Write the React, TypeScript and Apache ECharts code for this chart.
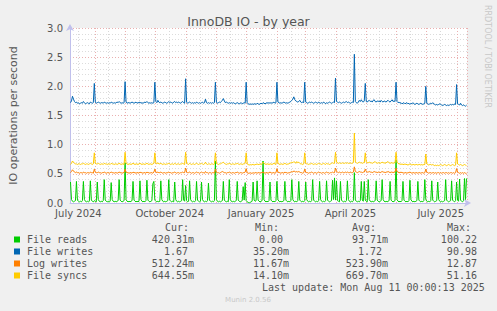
import React, { useEffect, useRef } from "react";
import * as echarts from "echarts";

// ---------- data ----------
const startDateUTC = Date.UTC(2024, 6, 7);
const dayCount = 400;
const tickLabelDates = ["2024-07-15", "2024-10-15", "2025-01-15", "2025-04-15", "2025-07-15"];
const tickLabels = ["July 2024", "October 2024", "January 2025", "April 2025", "July 2025"];

const seriesNames = ["File reads", "File writes", "Log writes", "File syncs"];
const seriesColors = ["#00cc00", "#0066b3", "#ff8000", "#ffcc00"];

const fileReads = [
  0.36, 0.06, 0.03, 0.02, 0.03, 0.04, 0.37, 0.05, 0.03, 0.02,
  0.03, 0.02, 0.04, 0.37, 0.06, 0.03, 0.02, 0.03, 0.02, 0.03,
  0.38, 0.05, 0.03, 0.02, 0.04, 0.03, 0.02, 0.36, 0.06, 0.03,
  0.02, 0.03, 0.02, 0.04, 0.40, 0.05, 0.03, 0.02, 0.03, 0.02,
  0.03, 0.35, 0.06, 0.03, 0.02, 0.03, 0.02, 0.03, 0.04, 0.40,
  0.05, 0.03, 0.02, 0.03, 0.04, 0.69, 0.06, 0.03, 0.02, 0.03,
  0.02, 0.03, 0.04, 0.37, 0.05, 0.03, 0.02, 0.03, 0.02, 0.03,
  0.38, 0.06, 0.03, 0.02, 0.03, 0.02, 0.04, 0.39, 0.05, 0.03,
  0.02, 0.03, 0.04, 0.33, 0.37, 0.05, 0.03, 0.02, 0.03, 0.02,
  0.03, 0.38, 0.06, 0.03, 0.02, 0.03, 0.02, 0.03, 0.04, 0.40,
  0.05, 0.03, 0.02, 0.03, 0.02, 0.36, 0.06, 0.03, 0.02, 0.03,
  0.02, 0.03, 0.04, 0.40, 0.05, 0.03, 0.30, 0.04, 0.02, 0.03,
  0.38, 0.06, 0.03, 0.02, 0.03, 0.02, 0.04, 0.37, 0.05, 0.03,
  0.02, 0.03, 0.36, 0.06, 0.03, 0.02, 0.03, 0.02, 0.04, 0.34,
  0.05, 0.03, 0.02, 0.03, 0.02, 0.04, 0.72, 0.06, 0.03, 0.02,
  0.03, 0.02, 0.03, 0.04, 0.37, 0.05, 0.03, 0.02, 0.03, 0.02,
  0.40, 0.06, 0.03, 0.02, 0.03, 0.02, 0.03, 0.04, 0.37, 0.05,
  0.03, 0.02, 0.03, 0.04, 0.28, 0.05, 0.35, 0.04, 0.02, 0.01,
  0.00, 0.01, 0.02, 0.03, 0.36, 0.05, 0.03, 0.04, 0.38, 0.05,
  0.03, 0.02, 0.03, 0.04, 0.72, 0.06, 0.03, 0.02, 0.03, 0.02,
  0.04, 0.36, 0.05, 0.03, 0.02, 0.03, 0.02, 0.04, 0.37, 0.06,
  0.03, 0.02, 0.03, 0.02, 0.03, 0.04, 0.37, 0.05, 0.03, 0.02,
  0.03, 0.02, 0.04, 0.40, 0.06, 0.03, 0.02, 0.03, 0.02, 0.04,
  0.37, 0.05, 0.03, 0.02, 0.03, 0.02, 0.04, 0.36, 0.06, 0.03,
  0.02, 0.03, 0.02, 0.04, 0.40, 0.05, 0.03, 0.02, 0.03, 0.02,
  0.04, 0.37, 0.06, 0.03, 0.02, 0.03, 0.02, 0.04, 0.38, 0.05,
  0.03, 0.02, 0.03, 0.04, 0.39, 0.06, 0.43, 0.05, 0.38, 0.04,
  0.03, 0.02, 0.37, 0.05, 0.03, 0.02, 0.03, 0.02, 0.04, 0.38,
  0.06, 0.03, 0.02, 0.03, 0.02, 0.04, 0.52, 0.05, 0.03, 0.02,
  0.03, 0.02, 0.04, 0.37, 0.05, 0.03, 0.37, 0.05, 0.03, 0.02,
  0.40, 0.06, 0.03, 0.02, 0.03, 0.02, 0.03, 0.04, 0.38, 0.05,
  0.03, 0.02, 0.03, 0.04, 0.40, 0.06, 0.03, 0.02, 0.03, 0.02,
  0.03, 0.04, 0.37, 0.05, 0.03, 0.02, 0.03, 0.04, 0.74, 0.06,
  0.03, 0.02, 0.03, 0.02, 0.04, 0.37, 0.05, 0.03, 0.02, 0.03,
  0.02, 0.04, 0.39, 0.06, 0.03, 0.02, 0.03, 0.02, 0.03, 0.04,
  0.37, 0.05, 0.03, 0.02, 0.03, 0.02, 0.04, 0.40, 0.06, 0.03,
  0.02, 0.03, 0.02, 0.04, 0.38, 0.05, 0.03, 0.02, 0.03, 0.04,
  0.36, 0.06, 0.03, 0.02, 0.03, 0.02, 0.03, 0.04, 0.40, 0.05,
  0.03, 0.02, 0.03, 0.04, 0.38, 0.05, 0.03, 0.02, 0.04, 0.36,
  0.05, 0.03, 0.41, 0.05, 0.03, 0.02, 0.04, 0.42, 0.06, 0.42,
];

const fileWrites = [
  1.72, 1.75, 1.83, 1.78, 1.74, 1.72, 1.73, 1.71, 1.72, 1.70,
  1.71, 1.72, 1.71, 1.74, 1.72, 1.70, 1.71, 1.72, 1.71, 1.70,
  1.73, 1.72, 1.71, 1.72, 2.05, 1.73, 1.71, 1.72, 1.73, 1.72,
  1.71, 1.72, 1.72, 1.71, 1.73, 1.72, 1.71, 1.72, 1.71, 1.72,
  1.71, 1.73, 1.72, 1.71, 1.72, 1.71, 1.72, 1.73, 1.72, 1.74,
  1.72, 1.71, 1.72, 1.71, 1.72, 2.08, 1.73, 1.71, 1.72, 1.72,
  1.71, 1.72, 1.73, 1.72, 1.71, 1.72, 1.73, 1.71, 1.72, 1.72,
  1.73, 1.71, 1.72, 1.71, 1.72, 1.73, 1.72, 1.74, 1.72, 1.71,
  1.72, 1.71, 1.72, 1.71, 1.72, 2.07, 1.74, 1.72, 1.76, 1.73,
  1.72, 1.73, 1.72, 1.71, 1.72, 1.73, 1.72, 1.71, 1.72, 1.74,
  1.72, 1.73, 1.72, 1.71, 1.73, 1.74, 1.72, 1.73, 1.72, 1.73,
  1.72, 1.71, 1.73, 1.74, 1.72, 1.71, 2.13, 1.73, 1.71, 1.72,
  1.73, 1.72, 1.71, 1.72, 1.71, 1.72, 1.71, 1.73, 1.72, 1.71,
  1.72, 1.71, 1.72, 1.73, 1.71, 1.72, 1.78, 1.72, 1.71, 1.72,
  1.71, 1.72, 1.71, 1.72, 1.71, 1.72, 2.07, 1.73, 1.71, 1.72,
  1.73, 1.72, 1.74, 1.76, 1.79, 1.75, 1.72, 1.73, 1.72, 1.71,
  1.72, 1.71, 1.72, 1.71, 1.72, 1.71, 1.70, 1.71, 1.72, 1.71,
  1.70, 1.71, 1.72, 1.70, 1.71, 1.72, 1.71, 2.07, 1.72, 1.70,
  1.69, 1.70, 1.69, 1.70, 1.69, 1.70, 1.70, 1.69, 1.71, 1.70,
  1.69, 1.70, 1.71, 1.70, 1.72, 1.71, 1.70, 1.71, 1.72, 1.71,
  1.72, 1.71, 1.72, 1.71, 1.72, 1.73, 1.71, 1.72, 2.07, 1.73,
  1.72, 1.71, 1.72, 1.71, 1.72, 1.73, 1.72, 1.71, 1.72, 1.71,
  1.72, 1.73, 1.74, 1.76, 1.78, 1.82, 1.77, 1.75, 1.74, 1.73,
  1.74, 1.76, 1.73, 1.72, 1.73, 1.72, 2.07, 1.73, 1.72, 1.71,
  1.72, 1.73, 1.72, 1.73, 1.72, 1.71, 1.72, 1.73, 1.72, 1.71,
  1.73, 1.72, 1.71, 1.72, 1.71, 1.73, 1.72, 1.70, 1.72, 1.71,
  1.72, 1.73, 1.72, 1.71, 1.72, 1.73, 1.72, 2.14, 1.74, 1.73,
  1.72, 1.73, 1.72, 1.71, 1.72, 1.73, 1.72, 1.73, 1.74, 1.72,
  1.73, 1.72, 1.71, 1.72, 1.73, 1.72, 2.55, 1.74, 1.72, 1.71,
  1.73, 1.76, 1.74, 1.77, 1.74, 1.73, 1.75, 2.05, 1.74, 1.73,
  1.75, 1.76, 1.74, 1.75, 1.73, 1.76, 1.77, 1.74, 1.73, 1.75,
  1.74, 1.75, 1.73, 1.76, 1.74, 1.73, 1.75, 1.74, 1.73, 1.75,
  1.76, 1.74, 1.73, 1.75, 1.77, 1.74, 1.75, 1.74, 2.07, 1.74,
  1.72, 1.73, 1.71, 1.72, 1.70, 1.71, 1.72, 1.70, 1.71, 1.72,
  1.70, 1.71, 1.69, 1.71, 1.70, 1.72, 1.70, 1.69, 1.70, 1.71,
  1.70, 1.69, 1.70, 1.71, 1.70, 1.69, 1.70, 1.71, 2.00, 1.71,
  1.70, 1.69, 1.70, 1.71, 1.70, 1.72, 1.70, 1.69, 1.68, 1.69,
  1.68, 1.69, 1.70, 1.69, 1.68, 1.67, 1.68, 1.69, 1.68, 1.67,
  1.68, 1.67, 1.68, 1.69, 1.68, 1.69, 1.68, 1.70, 1.69, 2.03,
  1.70, 1.69, 1.68, 1.71, 1.68, 1.67, 1.68, 1.67, 1.66, 1.67,
];

const logWrites = [
  0.52, 0.54, 0.57, 0.55, 0.53, 0.52, 0.53, 0.52, 0.52, 0.51,
  0.52, 0.52, 0.51, 0.53, 0.52, 0.52, 0.51, 0.52, 0.52, 0.51,
  0.53, 0.52, 0.52, 0.51, 0.58, 0.53, 0.52, 0.52, 0.53, 0.52,
  0.52, 0.51, 0.52, 0.52, 0.53, 0.52, 0.51, 0.52, 0.52, 0.51,
  0.52, 0.53, 0.52, 0.52, 0.51, 0.52, 0.52, 0.51, 0.52, 0.53,
  0.52, 0.52, 0.51, 0.52, 0.52, 0.58, 0.53, 0.52, 0.52, 0.51,
  0.52, 0.52, 0.51, 0.53, 0.52, 0.52, 0.51, 0.52, 0.52, 0.51,
  0.53, 0.52, 0.52, 0.51, 0.52, 0.52, 0.51, 0.53, 0.52, 0.52,
  0.51, 0.52, 0.52, 0.51, 0.53, 0.58, 0.53, 0.52, 0.53, 0.52,
  0.52, 0.53, 0.52, 0.51, 0.52, 0.52, 0.51, 0.52, 0.52, 0.53,
  0.52, 0.52, 0.51, 0.52, 0.52, 0.53, 0.52, 0.51, 0.52, 0.52,
  0.51, 0.52, 0.52, 0.53, 0.52, 0.52, 0.60, 0.53, 0.52, 0.52,
  0.53, 0.52, 0.51, 0.52, 0.52, 0.51, 0.52, 0.53, 0.52, 0.52,
  0.51, 0.52, 0.53, 0.52, 0.52, 0.51, 0.54, 0.52, 0.52, 0.51,
  0.52, 0.52, 0.51, 0.52, 0.52, 0.51, 0.58, 0.53, 0.52, 0.52,
  0.51, 0.52, 0.53, 0.54, 0.53, 0.52, 0.52, 0.51, 0.52, 0.52,
  0.53, 0.52, 0.51, 0.52, 0.52, 0.51, 0.52, 0.52, 0.53, 0.52,
  0.51, 0.52, 0.52, 0.51, 0.52, 0.52, 0.53, 0.59, 0.52, 0.51,
  0.51, 0.52, 0.51, 0.51, 0.52, 0.51, 0.52, 0.52, 0.51, 0.52,
  0.52, 0.51, 0.52, 0.52, 0.53, 0.52, 0.51, 0.52, 0.52, 0.51,
  0.52, 0.53, 0.52, 0.51, 0.52, 0.52, 0.51, 0.52, 0.59, 0.53,
  0.52, 0.52, 0.51, 0.52, 0.52, 0.51, 0.53, 0.52, 0.52, 0.51,
  0.52, 0.52, 0.53, 0.54, 0.53, 0.55, 0.54, 0.53, 0.54, 0.53,
  0.54, 0.53, 0.52, 0.52, 0.51, 0.52, 0.58, 0.53, 0.52, 0.52,
  0.51, 0.52, 0.52, 0.53, 0.52, 0.51, 0.52, 0.52, 0.51, 0.52,
  0.53, 0.52, 0.52, 0.51, 0.52, 0.52, 0.51, 0.52, 0.53, 0.52,
  0.52, 0.51, 0.52, 0.52, 0.53, 0.52, 0.52, 0.60, 0.54, 0.53,
  0.52, 0.53, 0.52, 0.52, 0.53, 0.52, 0.52, 0.53, 0.52, 0.53,
  0.52, 0.52, 0.53, 0.52, 0.52, 0.53, 0.62, 0.54, 0.53, 0.52,
  0.53, 0.54, 0.53, 0.53, 0.52, 0.53, 0.53, 0.58, 0.54, 0.53,
  0.53, 0.54, 0.53, 0.53, 0.52, 0.53, 0.54, 0.53, 0.53, 0.52,
  0.53, 0.53, 0.52, 0.53, 0.54, 0.53, 0.53, 0.52, 0.53, 0.53,
  0.54, 0.53, 0.52, 0.53, 0.53, 0.52, 0.53, 0.53, 0.60, 0.54,
  0.53, 0.52, 0.52, 0.53, 0.52, 0.52, 0.51, 0.52, 0.52, 0.51,
  0.52, 0.52, 0.53, 0.52, 0.51, 0.52, 0.52, 0.51, 0.52, 0.52,
  0.51, 0.52, 0.52, 0.51, 0.52, 0.52, 0.51, 0.52, 0.58, 0.53,
  0.52, 0.51, 0.52, 0.52, 0.51, 0.52, 0.52, 0.51, 0.52, 0.51,
  0.52, 0.52, 0.51, 0.52, 0.51, 0.52, 0.52, 0.51, 0.52, 0.52,
  0.51, 0.52, 0.51, 0.52, 0.52, 0.51, 0.52, 0.51, 0.52, 0.59,
  0.53, 0.52, 0.51, 0.52, 0.51, 0.52, 0.51, 0.52, 0.51, 0.51,
];

const fileSyncs = [
  0.66, 0.68, 0.72, 0.70, 0.68, 0.67, 0.67, 0.66, 0.67, 0.67,
  0.66, 0.67, 0.67, 0.68, 0.67, 0.66, 0.67, 0.67, 0.66, 0.67,
  0.68, 0.67, 0.66, 0.67, 0.86, 0.68, 0.67, 0.67, 0.68, 0.67,
  0.66, 0.67, 0.67, 0.66, 0.68, 0.67, 0.67, 0.66, 0.67, 0.67,
  0.66, 0.68, 0.67, 0.67, 0.66, 0.67, 0.67, 0.66, 0.67, 0.68,
  0.67, 0.66, 0.67, 0.67, 0.66, 0.87, 0.68, 0.67, 0.66, 0.67,
  0.67, 0.66, 0.67, 0.68, 0.67, 0.66, 0.67, 0.67, 0.66, 0.67,
  0.68, 0.67, 0.66, 0.67, 0.67, 0.66, 0.67, 0.68, 0.67, 0.66,
  0.67, 0.67, 0.66, 0.67, 0.68, 0.86, 0.68, 0.67, 0.69, 0.67,
  0.67, 0.68, 0.67, 0.66, 0.67, 0.67, 0.66, 0.67, 0.67, 0.68,
  0.67, 0.66, 0.67, 0.67, 0.66, 0.68, 0.67, 0.66, 0.67, 0.67,
  0.66, 0.67, 0.67, 0.68, 0.67, 0.66, 0.87, 0.68, 0.67, 0.66,
  0.68, 0.67, 0.66, 0.67, 0.67, 0.66, 0.67, 0.68, 0.67, 0.66,
  0.67, 0.67, 0.68, 0.67, 0.66, 0.67, 0.70, 0.67, 0.66, 0.67,
  0.67, 0.66, 0.67, 0.67, 0.66, 0.67, 0.86, 0.68, 0.67, 0.66,
  0.67, 0.67, 0.68, 0.69, 0.70, 0.68, 0.67, 0.66, 0.67, 0.67,
  0.68, 0.67, 0.66, 0.67, 0.67, 0.66, 0.67, 0.67, 0.68, 0.67,
  0.66, 0.67, 0.67, 0.66, 0.67, 0.67, 0.68, 0.86, 0.67, 0.66,
  0.65, 0.66, 0.65, 0.66, 0.66, 0.65, 0.66, 0.66, 0.67, 0.66,
  0.66, 0.67, 0.66, 0.67, 0.70, 0.68, 0.67, 0.66, 0.67, 0.67,
  0.66, 0.67, 0.67, 0.66, 0.67, 0.68, 0.67, 0.66, 0.86, 0.68,
  0.67, 0.66, 0.67, 0.67, 0.66, 0.67, 0.68, 0.67, 0.66, 0.67,
  0.67, 0.68, 0.69, 0.70, 0.69, 0.71, 0.70, 0.68, 0.71, 0.69,
  0.70, 0.68, 0.67, 0.67, 0.66, 0.67, 0.86, 0.68, 0.67, 0.67,
  0.66, 0.67, 0.67, 0.68, 0.67, 0.66, 0.67, 0.67, 0.66, 0.67,
  0.68, 0.67, 0.67, 0.66, 0.67, 0.68, 0.67, 0.66, 0.68, 0.67,
  0.67, 0.66, 0.67, 0.68, 0.69, 0.68, 0.68, 0.87, 0.70, 0.69,
  0.68, 0.69, 0.68, 0.68, 0.69, 0.68, 0.68, 0.69, 0.68, 0.69,
  0.68, 0.68, 0.69, 0.68, 0.68, 0.69, 1.20, 0.70, 0.69, 0.68,
  0.69, 0.70, 0.69, 0.69, 0.68, 0.69, 0.69, 0.86, 0.70, 0.69,
  0.69, 0.70, 0.69, 0.69, 0.68, 0.69, 0.70, 0.71, 0.69, 0.68,
  0.69, 0.69, 0.68, 0.69, 0.70, 0.69, 0.69, 0.68, 0.69, 0.70,
  0.71, 0.69, 0.68, 0.69, 0.69, 0.68, 0.69, 0.69, 0.87, 0.70,
  0.68, 0.67, 0.67, 0.66, 0.67, 0.66, 0.66, 0.67, 0.66, 0.66,
  0.65, 0.66, 0.67, 0.66, 0.65, 0.66, 0.66, 0.65, 0.66, 0.66,
  0.65, 0.66, 0.66, 0.65, 0.66, 0.65, 0.66, 0.66, 0.84, 0.67,
  0.66, 0.65, 0.66, 0.66, 0.65, 0.66, 0.65, 0.64, 0.65, 0.64,
  0.65, 0.64, 0.65, 0.66, 0.65, 0.64, 0.65, 0.66, 0.65, 0.64,
  0.65, 0.66, 0.65, 0.64, 0.65, 0.66, 0.65, 0.64, 0.65, 0.86,
  0.67, 0.66, 0.65, 0.66, 0.65, 0.64, 0.65, 0.66, 0.65, 0.64,
];

const legendHeaders = ["Cur:", "Min:", "Avg:", "Max:"];
const curValues = ["420.31m", "1.67", "512.24m", "644.55m"];
const minValues = ["0.00", "35.20m", "11.67m", "14.10m"];
const avgValues = ["93.71m", "1.72", "523.90m", "669.70m"];
const maxValues = ["100.22", "90.98", "12.87", "51.16"];
const lastUpdate = "Last update: Mon Aug 11 00:00:13 2025";
const titleText = "InnoDB IO - by year";
const yAxisTitle = "IO operations per second";
const sideText = "RRDTOOL / TOBI OETIKER";
const footerText = "Munin 2.0.56";

// ---------- layout / style ----------
const W = 497;
const H = 311;
const MONO = "'DejaVu Sans Mono', monospace";
const SANS = "'DejaVu Sans', sans-serif";
const TXT = "#555555";
const CHAR_W = 6.02;
const headerX = [165, 255, 352, 447];
const colRight = [194, 289, 388, 483];
const rowY = [239.5, 251.5, 263.5, 275.5];

const days: string[] = Array.from({ length: dayCount }, (_, i) =>
  new Date(startDateUTC + i * 86400000).toISOString().slice(0, 10)
);

function App() {
  const ref = useRef<HTMLDivElement>(null);

  useEffect(() => {
    if (!ref.current) return;
    const chart = echarts.init(ref.current, null, { renderer: "svg" });

    const graphics: any[] = [];
    graphics.push({
      type: "text",
      x: 487,
      y: 5,
      rotation: -Math.PI / 2,
      style: {
        text: sideText,
        fill: "#c8c8c8",
        fontSize: 8,
        fontFamily: SANS,
        textAlign: "left",
        textVerticalAlign: "middle",
        verticalAlign: "middle",
      },
    });
    legendHeaders.forEach((h, i) => {
      graphics.push({
        type: "text",
        x: headerX[i],
        y: 227.5,
        style: { text: h, fill: TXT, fontSize: 10, fontFamily: MONO, textAlign: "left", textVerticalAlign: "middle", verticalAlign: "middle" },
      });
    });
    const cols = [curValues, minValues, avgValues, maxValues];
    seriesNames.forEach((name, r) => {
      graphics.push({
        type: "rect",
        shape: { x: 14, y: rowY[r] - 3, width: 6, height: 6 },
        style: { fill: seriesColors[r] },
      });
      graphics.push({
        type: "text",
        x: 27,
        y: rowY[r],
        style: { text: name, fill: TXT, fontSize: 10, fontFamily: MONO, textAlign: "left", textVerticalAlign: "middle", verticalAlign: "middle" },
      });
      cols.forEach((col, c) => {
        const v = col[r];
        const hasUnit = /[a-zA-Z]$/.test(v);
        graphics.push({
          type: "text",
          x: colRight[c] - (hasUnit ? 0 : CHAR_W),
          y: rowY[r],
          style: { text: v, fill: TXT, fontSize: 10, fontFamily: MONO, textAlign: "right", textVerticalAlign: "middle", verticalAlign: "middle" },
        });
      });
    });
    graphics.push({
      type: "text",
      x: 262,
      y: 287.5,
      style: { text: lastUpdate, fill: TXT, fontSize: 10, fontFamily: MONO, textAlign: "left", textVerticalAlign: "middle", verticalAlign: "middle" },
    });
    graphics.push({
      type: "text",
      x: 248,
      y: 300,
      style: { text: footerText, fill: "#c8c8c8", fontSize: 7, fontFamily: SANS, textAlign: "center", textVerticalAlign: "middle", verticalAlign: "middle" },
    });

    const seriesData = [fileReads, fileWrites, logWrites, fileSyncs];

    chart.setOption({
      animation: false,
      backgroundColor: "#f0f0f0",
      title: {
        text: titleText,
        left: "center",
        top: 10,
        textStyle: { color: TXT, fontSize: 12.5, fontWeight: "normal", fontFamily: SANS },
      },
      grid: {
        left: 67,
        top: 28,
        width: 400,
        height: 175,
        show: true,
        backgroundColor: "#ffffff",
        borderWidth: 0,
      },
      xAxis: [
        {
          type: "category",
          data: days,
          boundaryGap: true,
          axisLine: {
            show: true,
            lineStyle: { color: "#c0c0ec", width: 1 },
            symbol: ["none", "arrow"],
            symbolSize: [6, 7],
            symbolOffset: [0, 4],
          },
          axisTick: { show: false },
          axisLabel: {
            interval: (i: number) => tickLabelDates.indexOf(days[i]) >= 0,
            formatter: (v: string) => {
              const k = tickLabelDates.indexOf(v);
              return k >= 0 ? tickLabels[k] : "";
            },
            color: TXT,
            fontSize: 10,
            fontFamily: SANS,
            margin: 5,
            hideOverlap: false,
          },
          splitLine: {
            show: true,
            interval: (i: number) => days[i] !== undefined && days[i].endsWith("-01"),
            lineStyle: { color: "#eab0b0", width: 1, type: [1, 2] },
          },
          z: 1,
        },
        {
          type: "category",
          data: days,
          boundaryGap: true,
          axisLine: { show: false },
          axisTick: { show: false },
          axisLabel: { show: false },
          splitLine: {
            show: true,
            interval: (i: number) => days[i] !== undefined && days[i].endsWith("-15"),
            lineStyle: { color: "#d8d8d8", width: 1, type: [1, 2] },
          },
        },
      ],
      yAxis: {
        type: "value",
        min: 0,
        max: 3,
        interval: 0.5,
        name: yAxisTitle,
        nameLocation: "middle",
        nameGap: 51,
        nameTextStyle: { color: TXT, fontSize: 11, fontFamily: SANS },
        axisLine: {
          show: true,
          lineStyle: { color: "#c0c0ec", width: 1 },
          symbol: ["none", "arrow"],
          symbolSize: [6, 7],
          symbolOffset: [0, 4],
        },
        axisTick: { show: false },
        axisLabel: {
          formatter: (v: number) => v.toFixed(1),
          color: TXT,
          fontSize: 10,
          fontFamily: SANS,
          margin: 7,
        },
        splitLine: { show: true, lineStyle: { color: "#eab0b0", width: 1, type: [1, 2] } },
        minorTick: { show: false, splitNumber: 5 },
        minorSplitLine: { show: true, lineStyle: { color: "#dcdcdc", width: 1, type: [1, 2] } },
      },
      series: seriesNames.map((name, i) => ({
        name,
        type: "line",
        data: seriesData[i],
        showSymbol: false,
        symbol: "none",
        silent: true,
        lineStyle: { color: seriesColors[i], width: 1 },
        itemStyle: { color: seriesColors[i] },
        z: 3 + i,
      })),
      graphic: graphics,
    });

    return () => {
      chart.dispose();
    };
  }, []);

  return (
    <div
      ref={ref}
      style={{ position: "absolute", left: 0, top: 0, width: W, height: H, background: "#f0f0f0" }}
    />
  );
}

export default App;
